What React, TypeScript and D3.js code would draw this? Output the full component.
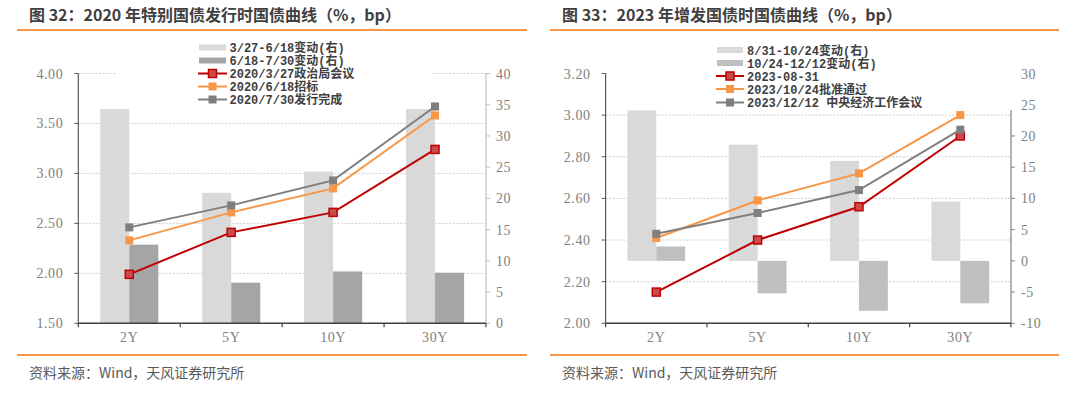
import React from 'react';
import * as d3 from 'd3';

// shared x categories
const categories = ['2Y', '5Y', '10Y', '30Y'];

// 图32 data
const c32BarNames = ['3/27-6/18变动(右)', '6/18-7/30变动(右)'];
const c32LineNames = ['2020/3/27政治局会议', '2020/6/18招标', '2020/7/30发行完成'];
const c32Bar1 = [34.3, 20.9, 24.3, 34.3];
const c32Bar2 = [12.6, 6.5, 8.3, 8.1];
const c32Red = [1.99, 2.41, 2.61, 3.24];
const c32Orange = [2.33, 2.61, 2.85, 3.58];
const c32Gray = [2.46, 2.68, 2.93, 3.67];
const c32LeftTicks = [1.5, 2.0, 2.5, 3.0, 3.5, 4.0];
const c32RightTicks = [0, 5, 10, 15, 20, 25, 30, 35, 40];

// 图33 data
const c33BarNames = ['8/31-10/24变动(右)', '10/24-12/12变动(右)'];
const c33LineNames = ['2023-08-31', '2023/10/24批准通过', '2023/12/12 中央经济工作会议'];
const c33Bar1 = [24.1, 18.6, 16.0, 9.5];
const c33Bar2 = [2.3, -5.2, -8.0, -6.8];
const c33Red = [2.15, 2.40, 2.56, 2.90];
const c33Orange = [2.41, 2.59, 2.72, 3.00];
const c33Gray = [2.43, 2.53, 2.64, 2.93];
const c33LeftTicks = [2.0, 2.2, 2.4, 2.6, 2.8, 3.0, 3.2];
const c33RightTicks = [-10, -5, 0, 5, 10, 15, 20, 25, 30];

const RED = '#C00000';
const ORANGE = '#F79646';
const GRAY = '#7F7F7F';
const LIGHT = '#D9D9D9';
const serif = '"Liberation Serif", serif';
const cjk = '"Noto Sans CJK SC", sans-serif';

function Panel(p: any) {
  const top = 73.5, bottom = 323.3;
  const x = d3.scaleBand().domain(categories).range([p.plotL, p.plotR]);
  const yL = d3.scaleLinear().domain(p.leftDomain).range([bottom, top]);
  const yR = d3.scaleLinear().domain(p.rightDomain).range([bottom, top]);
  const bw = x.bandwidth() * 0.285;
  const cx = (c: string) => (x(c) as number) + x.bandwidth() / 2;
  const line = (vals: number[]) =>
    d3.line<number>().x((d, i) => cx(categories[i])).y(d => yL(d))(vals) as string;
  const lines = [
    { vals: p.red, color: RED, fill: '#C84C4C' },
    { vals: p.orange, color: ORANGE, fill: ORANGE },
    { vals: p.gray, color: GRAY, fill: GRAY },
  ];
  const zero = yR(0);
  const lg = p.legend;
  return (
    <g>
      <text x={p.titleX} y={21} fontFamily={cjk} fontWeight="bold" fontSize={16} fill="#404040">{p.title}</text>
      <line x1={p.lineX1} x2={p.lineX2} y1={30} y2={30} stroke={ORANGE} strokeWidth={2} />
      <line x1={p.lineX1} x2={p.lineX2} y1={355} y2={355} stroke={ORANGE} strokeWidth={2} />
      <text x={p.titleX} y={378} fontFamily={cjk} fontSize={14} fill="#595959">资料来源：Wind，天风证券研究所</text>

      {/* gridlines */}
      {p.leftTicks.slice(1).map((t: number) => (
        <line key={'g' + t} x1={p.plotL} x2={p.plotR} y1={yL(t)} y2={yL(t)} stroke="#CFCFCF" strokeDasharray="2,1.5" />
      ))}

      {/* bars */}
      {categories.map((c, i) => (
        <g key={'b' + c}>
          <rect x={cx(c) - bw} width={bw} y={Math.min(yR(p.bar1[i]), zero)} height={Math.abs(yR(p.bar1[i]) - zero)} fill={LIGHT} />
          <rect x={cx(c)} width={bw} y={Math.min(yR(p.bar2[i]), zero)} height={Math.abs(yR(p.bar2[i]) - zero)} fill={p.darkBar} />
        </g>
      ))}

      {/* legend box */}
      <rect x={lg.boxX} y={36} width={lg.boxW} height={lg.boxH} fill="#fff" />

      {/* left axis */}
      <line x1={p.plotL} x2={p.plotL} y1={top} y2={bottom} stroke="#595959" strokeWidth={1.2} />
      {p.leftTicks.map((t: number) => (
        <g key={'l' + t}>
          <line x1={p.plotL - 4} x2={p.plotL} y1={yL(t)} y2={yL(t)} stroke="#595959" />
          <text x={p.plotL - 15} y={yL(t) + 5} textAnchor="end" fontFamily={serif} fontSize={14} fill="#808080" letterSpacing={0.6}>{t.toFixed(2)}</text>
        </g>
      ))}

      {/* right axis */}
      <line x1={p.plotR} x2={p.plotR} y1={p.rightAxisTop} y2={bottom} stroke={p.rightAxisColor} strokeWidth={1.2} />
      {p.rightTicks.map((t: number) => (
        <g key={'r' + t}>
          {yR(t) >= p.rightAxisTop && <line x1={p.plotR} x2={p.plotR + 4} y1={yR(t)} y2={yR(t)} stroke={p.rightAxisColor} />}
          <text x={p.plotR + 10} y={yR(t) + 5} fontFamily={serif} fontSize={14} fill="#808080" letterSpacing={0.6}>{t}</text>
        </g>
      ))}

      {/* x axis */}
      <line x1={p.plotL} x2={p.plotR} y1={bottom} y2={bottom} stroke="#404040" strokeWidth={1.5} />
      {[...categories.map(c => x(c) as number), p.plotR].map((v, i) => (
        <line key={'t' + i} x1={v} x2={v} y1={bottom} y2={bottom + 4} stroke="#404040" strokeWidth={1.2} />
      ))}
      {categories.map(c => (
        <text key={'x' + c} x={cx(c)} y={342} textAnchor="middle" fontFamily={serif} fontSize={14} fill="#808080" letterSpacing={0.6}>{c}</text>
      ))}

      {/* lines */}
      {lines.map((l, k) => (
        <g key={'ln' + k}>
          <path d={line(l.vals)} fill="none" stroke={l.color} strokeWidth={2} />
          {l.vals.map((v: number, i: number) => (
            <rect key={i} x={cx(categories[i]) - 4} y={yL(v) - 4} width={8} height={8} fill={l.fill} stroke={l.color} strokeWidth={k === 0 ? 1.5 : 0} />
          ))}
        </g>
      ))}

      {/* legend */}
      {p.barNames.map((n: string, i: number) => (
        <g key={'lb' + i}>
          <rect x={lg.sx + 1} y={lg.rows[i] - 3} width={lg.sw - 2} height={6} fill={i === 0 ? LIGHT : p.darkBar} />
          <text x={lg.tx} y={lg.rows[i] + 4.5} fontFamily={`"Liberation Mono", ${cjk}`} fontWeight="bold" fontSize={12} fill="#404040">{n}</text>
        </g>
      ))}
      {p.lineNames.map((n: string, j: number) => {
        const ry = lg.rows[j + 2];
        const l = lines[j];
        return (
          <g key={'ll' + j}>
            <line x1={lg.sx} x2={lg.sx + lg.sw} y1={ry} y2={ry} stroke={l.color} strokeWidth={2} />
            <rect x={lg.sx + lg.sw / 2 - 4} y={ry - 4} width={8} height={8} fill={l.fill} stroke={l.color} strokeWidth={j === 0 ? 1.5 : 0} />
            <text x={lg.tx} y={ry + 4.5} fontFamily={`"Liberation Mono", ${cjk}`} fontWeight="bold" fontSize={12} fill="#404040">{n}</text>
          </g>
        );
      })}
    </g>
  );
}

export default function App() {
  return (
    <svg width={1080} height={393} style={{ position: 'absolute', left: 0, top: 0, background: '#fff' }}>
      <Panel
        title="图 32：2020 年特别国债发行时国债曲线（%，bp）"
        titleX={29} lineX1={17} lineX2={527}
        plotL={78.3} plotR={486}
        leftDomain={[1.5, 4.0]} rightDomain={[0, 40]}
        leftTicks={c32LeftTicks} rightTicks={c32RightTicks}
        bar1={c32Bar1} bar2={c32Bar2} red={c32Red} orange={c32Orange} gray={c32Gray}
        barNames={c32BarNames} lineNames={c32LineNames}
        darkBar="#A5A5A5" rightAxisColor="#BFBFBF" rightAxisTop={73.5}
        legend={{ boxX: 117, boxW: 316, boxH: 71, sx: 198, sw: 29, tx: 229.5, rows: [47.5, 60.5, 73.5, 86.5, 99.5] }}
      />
      <Panel
        title="图 33：2023 年增发国债时国债曲线（%，bp）"
        titleX={562} lineX1={550} lineX2={1059}
        plotL={605.6} plotR={1011}
        leftDomain={[2.0, 3.2]} rightDomain={[-10, 30]}
        leftTicks={c33LeftTicks} rightTicks={c33RightTicks}
        bar1={c33Bar1} bar2={c33Bar2} red={c33Red} orange={c33Orange} gray={c33Gray}
        barNames={c33BarNames} lineNames={c33LineNames}
        darkBar="#BFBFBF" rightAxisColor="#808080" rightAxisTop={110}
        legend={{ boxX: 607, boxW: 406, boxH: 74, sx: 716, sw: 28, tx: 747, rows: [50, 63, 76, 89, 102.5] }}
      />
    </svg>
  );
}
